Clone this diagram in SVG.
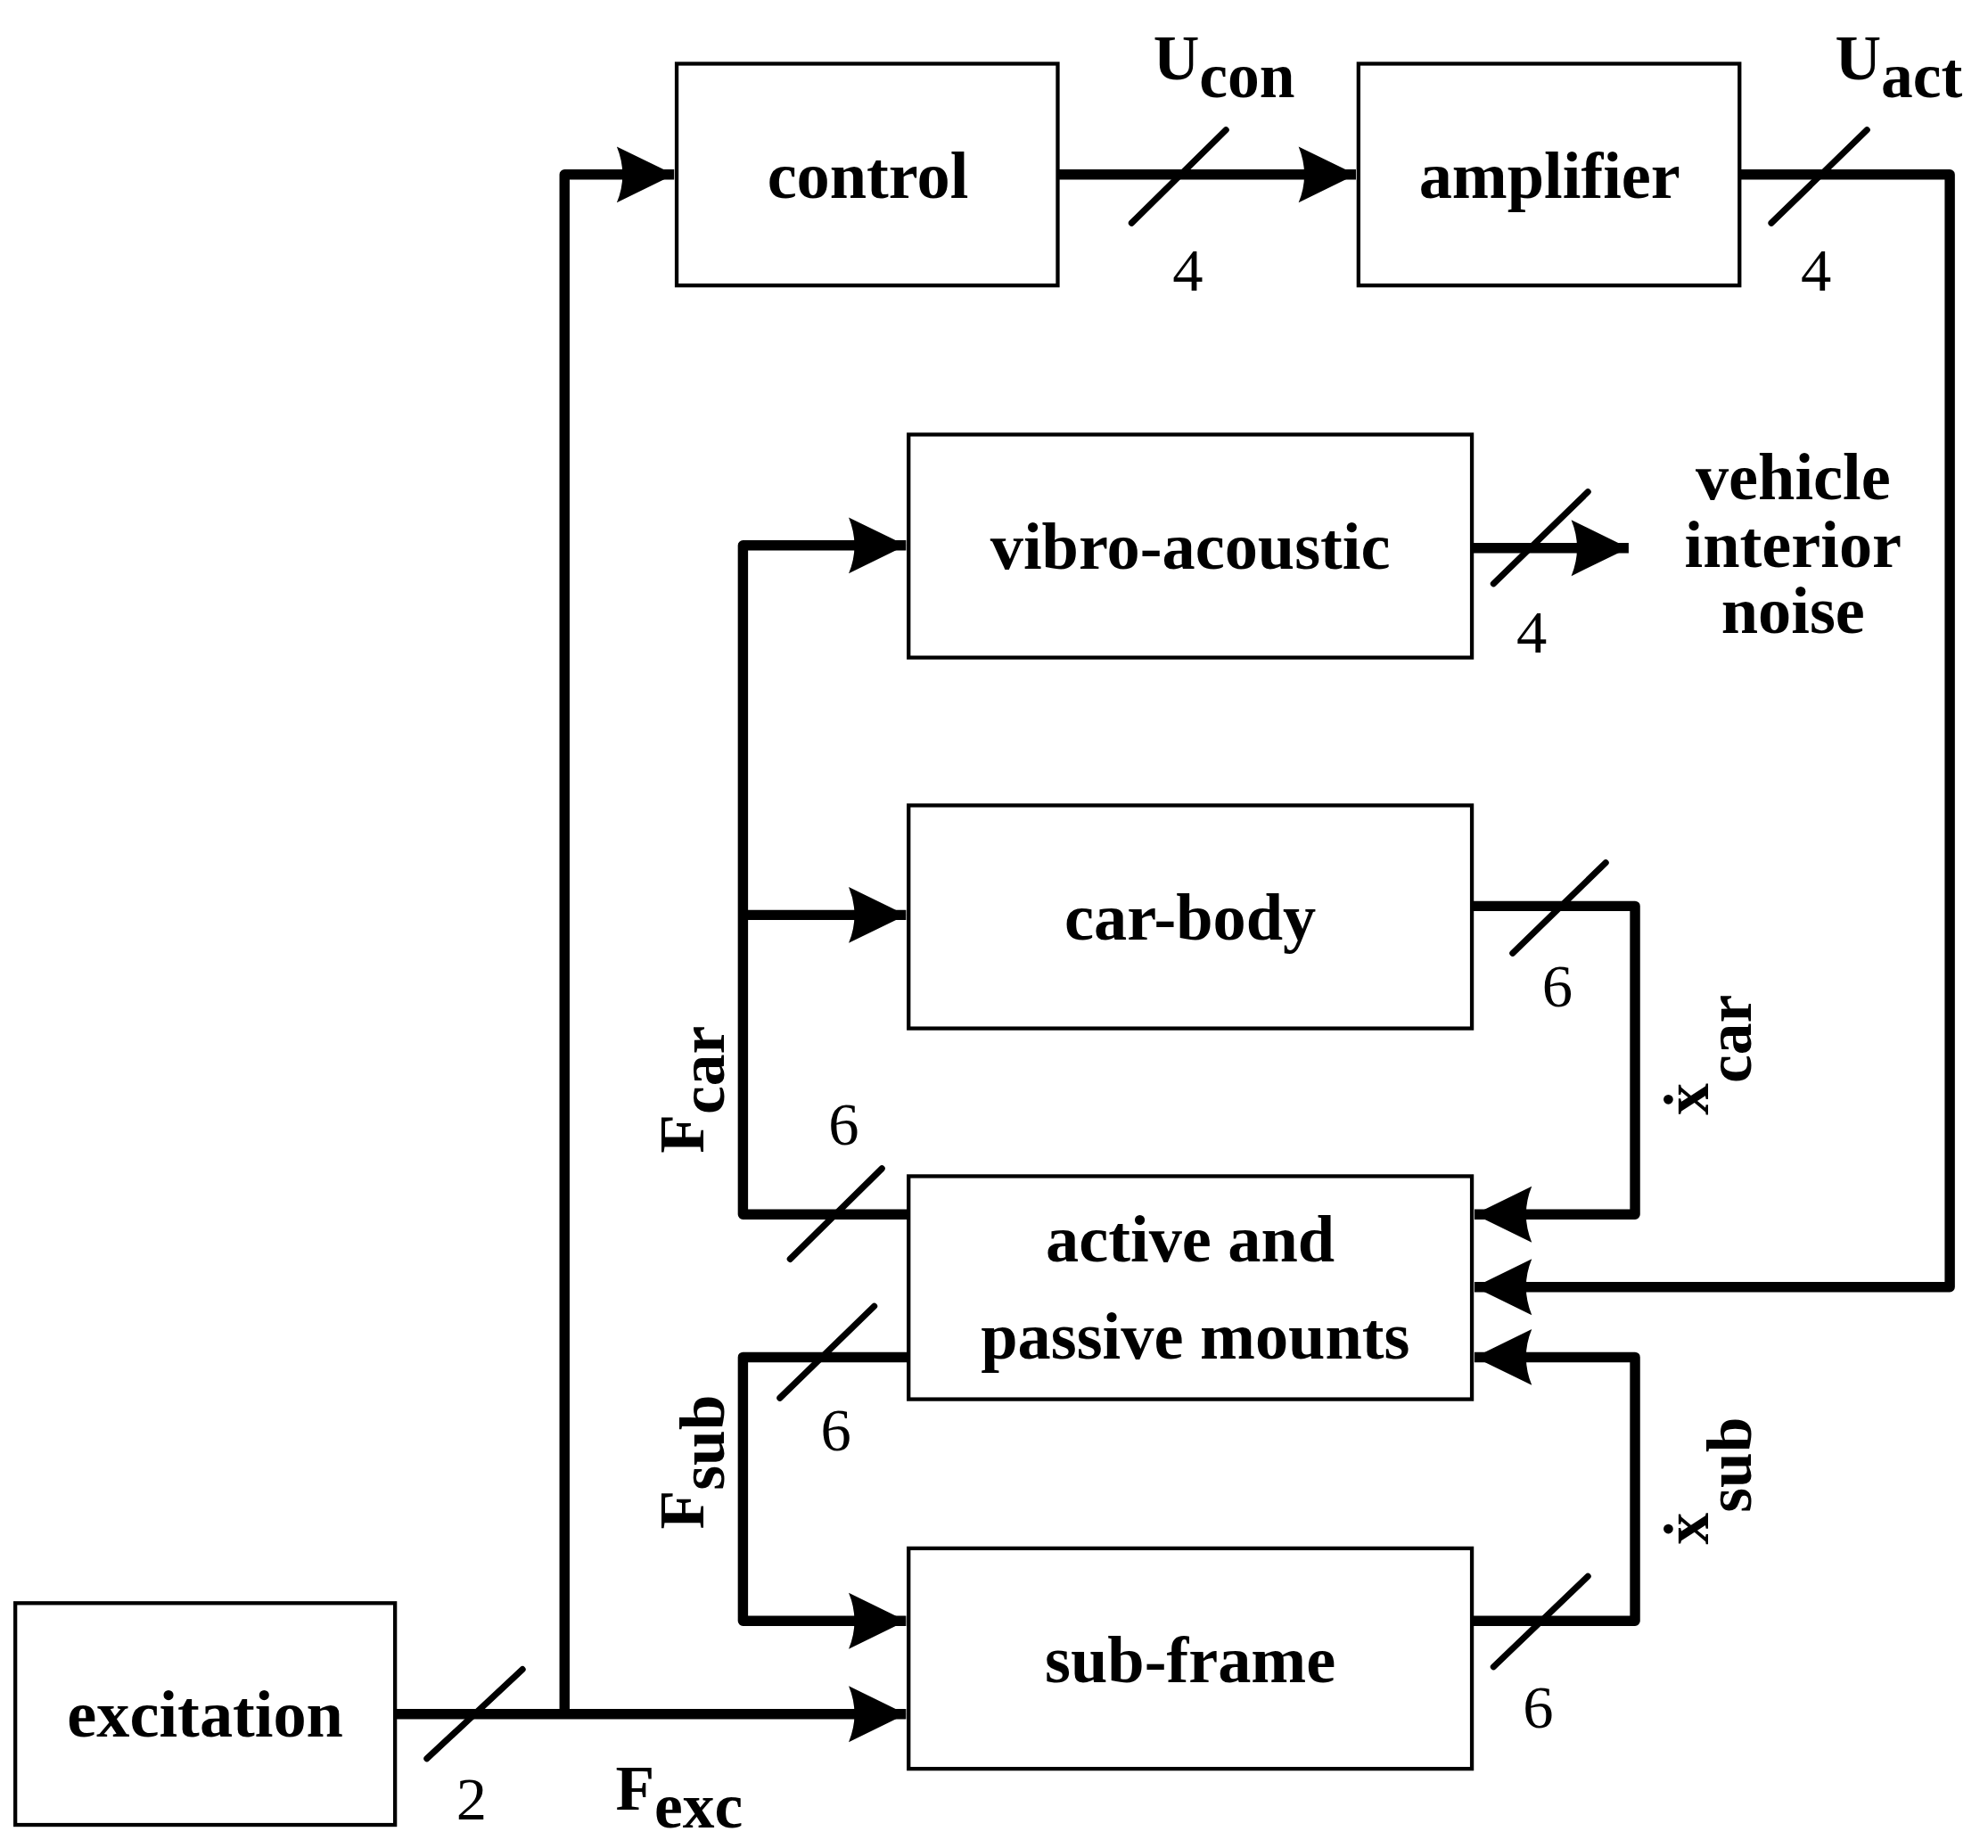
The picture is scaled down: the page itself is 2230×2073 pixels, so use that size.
<svg xmlns="http://www.w3.org/2000/svg" width="2230" height="2073" viewBox="0 0 2230 2073">
<style>
.b{fill:#fff;stroke:#000;stroke-width:3}
.t{font-family:"Liberation Serif",serif;font-weight:bold;font-size:52px;text-anchor:middle}
.n{font-family:"Liberation Serif",serif;font-size:48px;text-anchor:middle}
.l{font-family:"Liberation Serif",serif;font-weight:bold;font-size:50px}
.w{fill:none;stroke:#000;stroke-width:8;stroke-linejoin:round}
.s{stroke:#000;stroke-width:5;stroke-linecap:round}
</style>
<defs>
<marker id="a" markerUnits="userSpaceOnUse" viewBox="-50 -25 52 50" refX="0" refY="0" markerWidth="52" markerHeight="50" orient="auto">
<path d="M0,0 L-45,-22 Q-36,0 -45,22 Z" fill="#000"/>
</marker>
</defs>
<rect width="2230" height="2073" fill="#fff"/>
<g transform="scale(1.4295)">
<g id="connectors">
<path class="w" d="M310,1345 H711" marker-end="url(#a)"/>
<path class="w" d="M443,1345 V137 H529" marker-end="url(#a)"/>
<path class="w" d="M830,137 H1064" marker-end="url(#a)"/>
<path class="w" d="M1365,137 H1530 V1010 H1157" marker-end="url(#a)"/>
<path class="w" d="M713,953 H583 V428 H711" marker-end="url(#a)"/>
<path class="w" d="M583,718 H711" marker-end="url(#a)"/>
<path class="w" d="M1155,711 H1283 V953 H1157" marker-end="url(#a)"/>
<path class="w" d="M713,1065 H583 V1272 H711" marker-end="url(#a)"/>
<path class="w" d="M1155,1272 H1283 V1065 H1157" marker-end="url(#a)"/>
<path class="w" d="M1155,430 H1278" marker-end="url(#a)"/>
<line class="s" x1="335" y1="1380" x2="410" y2="1310"/>
<line class="s" x1="888" y1="175" x2="962" y2="102"/>
<line class="s" x1="1390" y1="175" x2="1465" y2="102"/>
<line class="s" x1="1172" y1="458" x2="1246" y2="386"/>
<line class="s" x1="1187" y1="748" x2="1260" y2="677"/>
<line class="s" x1="620" y1="988" x2="692" y2="917"/>
<line class="s" x1="612" y1="1097" x2="686" y2="1025"/>
<line class="s" x1="1172" y1="1308" x2="1246" y2="1237"/>
</g>
<g id="labels">
<text class="n" x="370" y="1428">2</text>
<text class="n" x="932" y="228">4</text>
<text class="n" x="1425" y="228">4</text>
<text class="n" x="1202" y="512">4</text>
<text class="n" x="1222" y="790">6</text>
<text class="n" x="662" y="898">6</text>
<text class="n" x="656" y="1138">6</text>
<text class="n" x="1207" y="1356">6</text>
<text class="l" x="905" y="62">U<tspan dy="14">con</tspan></text>
<text class="l" x="1440" y="62">U<tspan dy="14">act</tspan></text>
<text class="l" x="483" y="1420">F<tspan dy="14">exc</tspan></text>
<text class="l" transform="translate(552,905) rotate(-90)">F<tspan dy="16">car</tspan></text>
<text class="l" transform="translate(552,1200) rotate(-90)">F<tspan dy="16">sub</tspan></text>
<text class="l" transform="translate(1340,875) rotate(-90)">ẋ<tspan dy="34">car</tspan></text>
<text class="l" transform="translate(1340,1212) rotate(-90)">ẋ<tspan dy="34">sub</tspan></text>
<text class="t" x="1407" y="392">vehicle</text>
<text class="t" x="1407" y="445">interior</text>
<text class="t" x="1407" y="497">noise</text>
</g>
<g id="control"><rect class="b" x="531" y="50" width="299" height="174"/><text class="t" x="681" y="155">control</text></g>
<g id="amplifier"><rect class="b" x="1066" y="50" width="299" height="174"/><text class="t" x="1216" y="155">amplifier</text></g>
<g id="vibro"><rect class="b" x="713" y="341" width="442" height="175"/><text class="t" x="934" y="446">vibro-acoustic</text></g>
<g id="carbody"><rect class="b" x="713" y="632" width="442" height="175"/><text class="t" x="934" y="737">car-body</text></g>
<g id="mounts"><rect class="b" x="713" y="923" width="442" height="175"/><text class="t" x="934" y="990">active and</text><text class="t" x="938" y="1066">passive mounts</text></g>
<g id="subframe"><rect class="b" x="713" y="1215" width="442" height="173"/><text class="t" x="934" y="1320">sub-frame</text></g>
<g id="excitation"><rect class="b" x="12" y="1258" width="298" height="174"/><text class="t" x="161" y="1363">excitation</text></g>
</g>
</svg>
